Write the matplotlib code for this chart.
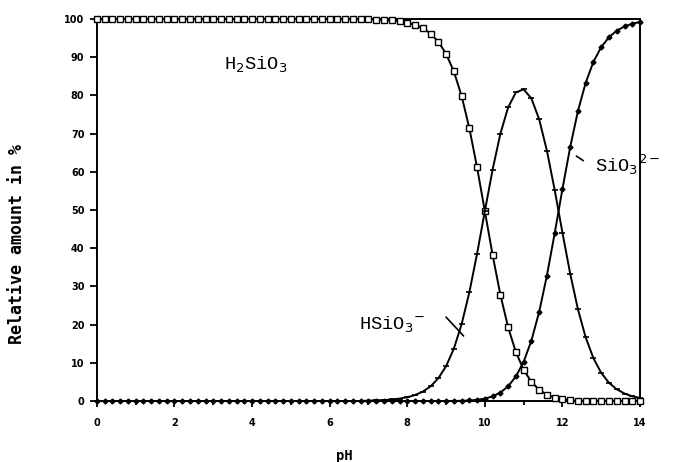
import matplotlib
matplotlib.use("Agg")
import matplotlib.pyplot as plt
from matplotlib.ticker import MultipleLocator

ph = [0.0, 0.2, 0.4, 0.6, 0.8, 1.0, 1.2, 1.4, 1.6, 1.8,
      2.0, 2.2, 2.4, 2.6, 2.8, 3.0, 3.2, 3.4, 3.6, 3.8,
      4.0, 4.2, 4.4, 4.6, 4.8, 5.0, 5.2, 5.4, 5.6, 5.8,
      6.0, 6.2, 6.4, 6.6, 6.8, 7.0, 7.2, 7.4, 7.6, 7.8,
      8.0, 8.2, 8.4, 8.6, 8.8, 9.0, 9.2, 9.4, 9.6, 9.8,
      10.0, 10.2, 10.4, 10.6, 10.8, 11.0, 11.2, 11.4, 11.6, 11.8,
      12.0, 12.2, 12.4, 12.6, 12.8, 13.0, 13.2, 13.4, 13.6, 13.8,
      14.0]

h2sio3 = [100, 100, 100, 100, 100, 100, 100, 100, 100, 100,
          100, 100, 100, 100, 100, 100, 100, 100, 100, 100,
          100, 100, 100, 100, 100, 100, 100, 100, 100, 100,
          100, 100, 100, 100, 100, 99.9, 99.84, 99.75, 99.6, 99.37,
          99.01, 98.44, 97.55, 96.17, 94.06, 90.9, 86.3, 79.87, 71.42, 61.12,
          49.69, 38.22, 27.84, 19.3, 12.8, 8.16, 5.0, 2.94, 1.65, 0.88,
          0.44, 0.21, 0.1, 0.04, 0.02, 0.01, 0.0, 0.0, 0.0, 0.0,
          0.0]

hsio3 = [0, 0, 0, 0, 0, 0, 0, 0, 0, 0,
         0, 0, 0, 0, 0, 0, 0, 0, 0, 0,
         0, 0, 0, 0, 0, 0, 0, 0, 0, 0,
         0, 0, 0, 0, 0, 0.1, 0.16, 0.25, 0.4, 0.63,
         0.99, 1.56, 2.45, 3.83, 5.94, 9.09, 13.68, 20.06, 28.43, 38.57,
         49.69, 60.57, 69.94, 76.85, 80.78, 81.57, 79.2, 73.74, 65.52, 55.24,
         44.07, 33.32, 24.0, 16.63, 11.18, 7.36, 4.77, 3.07, 1.96, 1.24,
         0.79]

sio3 = [0, 0, 0, 0, 0, 0, 0, 0, 0, 0,
        0, 0, 0, 0, 0, 0, 0, 0, 0, 0,
        0, 0, 0, 0, 0, 0, 0, 0, 0, 0,
        0, 0, 0, 0, 0, 0, 0, 0, 0, 0,
        0, 0, 0, 0, 0, 0.01, 0.03, 0.06, 0.14, 0.31,
        0.63, 1.21, 2.21, 3.85, 6.42, 10.27, 15.8, 23.32, 32.84, 43.88,
        55.49, 66.47, 75.9, 83.33, 88.8, 92.63, 95.23, 96.93, 98.04, 98.76,
        99.21]

yticks = [0, 10, 20, 30, 40, 50, 60, 70, 80, 90, 100]
xticks = [0, 2, 4, 6, 8, 10, 12, 14]

fig = plt.figure(figsize=(6.73, 4.62), dpi=100)
ax = fig.add_axes([0.144, 0.132, 0.807, 0.827])

lw = 1.4
ax.plot(ph, h2sio3, color="black", lw=lw, marker="s", ms=4, mfc="white",
        mec="black", mew=1.0, clip_on=False, zorder=3)
ax.plot(ph, hsio3, color="black", lw=lw, marker="_", ms=5, mew=1.2,
        clip_on=False, zorder=3)
ax.plot(ph, sio3, color="black", lw=lw, marker="D", ms=2.5, mfc="black",
        mec="black", clip_on=False, zorder=3)

ax.set_xlim(0, 14)
ax.set_ylim(0, 100)
for s in ax.spines.values():
    s.set_linewidth(1.4)

ax.xaxis.set_major_locator(MultipleLocator(2))
ax.xaxis.set_minor_locator(MultipleLocator(1))
ax.set_yticks(yticks)
ax.set_xticks(xticks)
ax.tick_params(axis="both", which="both", direction="out", width=1.3)
ax.tick_params(axis="y", length=5, pad=4)
ax.tick_params(axis="x", which="major", length=4, pad=8)
ax.tick_params(axis="x", which="minor", length=3)
for lab in ax.get_xticklabels() + ax.get_yticklabels():
    lab.set_fontweight("bold")
    lab.set_fontsize(7)

ax.set_xlabel("pH", fontsize=10, fontweight="bold", family="DejaVu Sans Mono")
ax.xaxis.set_label_coords(0.455, -0.125)
ax.set_ylabel("Relative amount in %", fontsize=12, fontweight="bold",
              family="DejaVu Sans Mono")
ax.yaxis.set_label_coords(-0.13, 0.41)

mono = "Liberation Mono"
ax.text(4.1, 88, r"H$_2$SiO$_3$", fontsize=13.5, family=mono, ha="center", va="center")
ax.text(7.6, 20, r"HSiO$_3$$^{-}$", fontsize=13.5, family=mono, ha="center", va="center")
ax.annotate("", xy=(9.5, 16.5), xytext=(8.95, 22.5),
            arrowprops=dict(arrowstyle="-", color="black", lw=1.2))
ax.text(12.85, 62, r"SiO$_3$$^{2-}$", fontsize=13.5, family=mono, ha="left", va="center",
        clip_on=False)
ax.annotate("", xy=(12.3, 64.5), xytext=(12.6, 62.5),
            arrowprops=dict(arrowstyle="-", color="black", lw=1.2))

fig.savefig("out.png", dpi=100)
